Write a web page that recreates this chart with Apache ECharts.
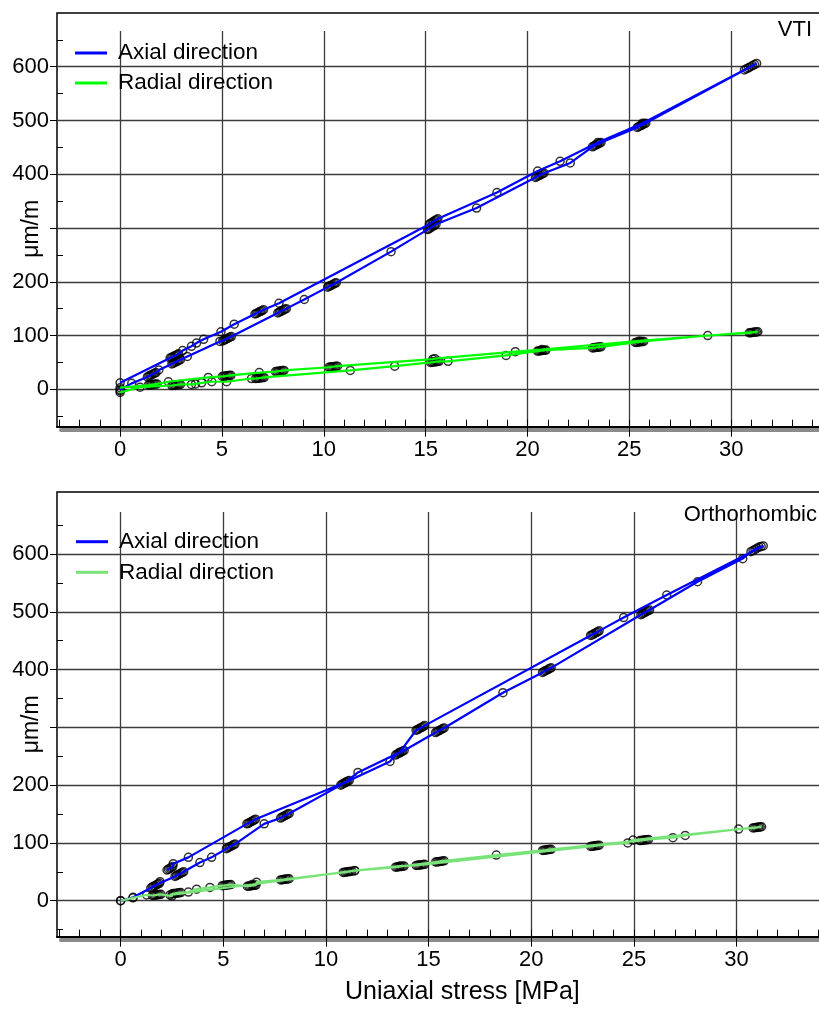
<!DOCTYPE html>
<html><head><meta charset="utf-8">
<script src="https://cdn.jsdelivr.net/npm/echarts@6/dist/echarts.min.js"></script>
<style>html,body{margin:0;padding:0;background:#fff}#c{width:819px;height:1010px}</style>
</head><body><div id="c"></div>
<script>
// ---------- tick values / labels ----------
const xTickLabels = [0, 5, 10, 15, 20, 25, 30];
const xMinorTicks = [-3,-2,-1,0,1,2,3,4,5,6,7,8,9,10,11,12,13,14,15,16,17,18,19,20,21,22,23,24,25,26,27,28,29,30,31,32,33,34];
const yTickValues = [0, 100, 200, 300, 400, 500, 600];
const yTickLabels = [0, 100, 200, 400, 500, 600];
const yMinorTicks = [-50, 50, 150, 250, 350, 450, 550, 650];

// ---------- data: [uniaxial stress MPa, strain µm/m], in measurement order ----------
const vtiAxial = [
  [0,-1],[0.57,11],
  [1.34,23],[1.41,24.5],[1.48,26],[1.55,27],[1.62,28.5],[1.69,30],[1.76,31],
  [1.9,36],
  [2.54,47],[2.61,48.5],[2.68,50],[2.75,51],[2.82,52.5],[2.89,54],[2.96,55],
  [3.3,61],[4.9,89],
  [5.04,90],[5.11,91.5],[5.18,93],[5.25,94],[5.32,95.5],[5.39,97],[5.46,98],
  [7.74,142],[7.81,143.5],[7.88,145],[7.95,146],[8.02,147.5],[8.09,149],[8.16,150],
  [9.04,167],
  [10.19,190],[10.26,191.5],[10.33,193],[10.4,194],[10.47,195.5],[10.54,197],[10.61,198],
  [13.3,256],
  [15.09,297],[15.16,298.5],[15.23,300],[15.3,302],[15.37,303.5],[15.44,305],[15.51,307],
  [17.5,337],
  [20.39,394],[20.46,395.5],[20.53,397],[20.6,398],[20.67,399.5],[20.74,401],[20.81,402],
  [22.1,421],
  [23.19,451],[23.26,452.5],[23.33,454],[23.4,455],[23.47,456.5],[23.54,458],[23.61,459],
  [25.39,487],[25.46,488.5],[25.53,490],[25.6,491],[25.67,492.5],[25.74,494],[25.81,495],
  [30.65,594],[30.75,596],[30.85,598],[30.95,600],[31.05,602],[31.15,604],[31.25,606],
  [25.65,495],[23.45,459],[21.6,424],[20.5,406],[18.5,366],
  [15.6,317],[15.53,315.5],[15.46,314],[15.39,312],[15.32,310.5],[15.25,309],[15.18,307],
  [7.8,160],
  [7.04,148],[6.97,146.5],[6.9,145],[6.83,144],[6.76,142.5],[6.69,141],[6.62,140],
  [5.6,121],[4.95,107],[4.1,93],[3.75,86],[3.5,80],[3.07,72],
  [2.87,66],[2.8,64.5],[2.73,63],[2.66,62],[2.59,60.5],[2.52,59],[2.45,58],
  [0,12]
];
const vtiRadial = [
  [0,-6],[0,-3],[0.98,4],
  [2.54,7],[2.61,7.3],[2.68,7.6],[2.75,8],[2.82,8.4],[2.89,8.7],[2.96,9],
  [3.5,9],[3.7,10],[4.0,12],[4.5,14],[5.23,14],[6.45,20],
  [6.65,20],[6.72,20.3],[6.79,20.6],[6.86,21],[6.93,21.4],[7.0,21.7],[7.07,22],
  [11.3,35],[13.48,43],
  [15.24,50],[15.31,50.3],[15.38,50.6],[15.45,51],[15.52,51.4],[15.59,51.7],[15.66,52],
  [16.1,52],[18.95,63],
  [20.49,71],[20.56,71.3],[20.63,71.6],[20.7,72],[20.77,72.4],[20.84,72.7],[20.91,73],
  [23.19,77],[23.26,77.3],[23.33,77.6],[23.4,78],[23.47,78.4],[23.54,78.7],[23.61,79],
  [25.29,87],[25.36,87.3],[25.43,87.6],[25.5,88],[25.57,88.4],[25.64,88.7],[25.71,89],
  [28.85,100],
  [30.89,105],[30.96,105.3],[31.03,105.6],[31.1,106],[31.17,106.4],[31.24,106.7],[31.31,107],
  [25.5,90],[20.7,74],[19.4,70],[15.45,57],[15.35,56],
  [10.67,43],[10.6,42.7],[10.53,42.4],[10.46,42],[10.39,41.6],[10.32,41.3],[10.25,41],
  [8.05,35],[7.98,34.7],[7.91,34.4],[7.84,34],[7.77,33.6],[7.7,33.3],[7.63,33],
  [6.83,31],
  [5.44,26],[5.37,25.7],[5.3,25.4],[5.23,25],[5.16,24.6],[5.09,24.3],[5.02,24],
  [4.33,22],[2.37,14],
  [1.81,10],[1.74,9.7],[1.67,9.4],[1.6,9],[1.53,8.6],[1.46,8.3],[1.39,8],
  [0,3]
];
const orthoAxial = [
  [0,0],[0.61,6],
  [1.47,22],[1.54,23.5],[1.61,25],[1.68,26],[1.75,27.5],[1.82,29],[1.89,30],
  [1.92,33],
  [2.65,42],[2.72,43.5],[2.79,45],[2.86,46],[2.93,47.5],[3.0,49],[3.07,50],
  [3.86,66],[4.43,75],
  [5.15,90],[5.22,91.5],[5.29,93],[5.36,94],[5.43,95.5],[5.5,97],[5.57,98],
  [6.99,133],
  [7.79,143],[7.86,144.5],[7.93,146],[8.0,147],[8.07,148.5],[8.14,150],[8.21,151],
  [10.72,200],[10.79,201.5],[10.86,203],[10.93,204],[11.0,205.5],[11.07,207],[11.14,208],
  [13.12,241],
  [13.39,252],[13.46,253.5],[13.53,255],[13.6,256],[13.67,257.5],[13.74,259],[13.81,260],
  [15.34,291],[15.41,292.5],[15.48,294],[15.55,295],[15.62,296.5],[15.69,298],[15.76,299],
  [18.62,360],
  [20.55,395],[20.62,396.5],[20.69,398],[20.76,399],[20.83,400.5],[20.9,402],[20.97,403],
  [25.34,495],[25.41,496.5],[25.48,498],[25.55,499],[25.62,500.5],[25.69,502],[25.76,503],
  [28.1,552],[30.3,592],
  [30.7,604],[30.8,606],[30.9,608],[31.0,610],[31.1,612],[31.2,613],[31.3,614],
  [26.6,529],[24.5,490],
  [23.31,467],[23.24,465.5],[23.17,464],[23.1,463],[23.03,461.5],[22.96,460],[22.89,459],
  [14.81,303],[14.74,301.5],[14.67,300],[14.6,299],[14.53,297.5],[14.46,296],[14.39,295],
  [13.6,257],[11.56,222],[10.95,205],
  [6.57,141],[6.5,139.5],[6.43,138],[6.36,137],[6.29,135.5],[6.22,134],[6.15,133],
  [3.3,75],[2.56,64],
  [2.54,59],[2.47,57.5],[2.4,56],[2.33,54.5],[2.26,53]
];
const orthoRadial = [
  [0,0],[0.6,5],[1.27,10],
  [1.54,9],[1.61,9.3],[1.68,9.6],[1.75,10],[1.82,10.4],[1.89,10.7],[1.96,11],
  [2.5,8],
  [2.51,12],[2.58,12.3],[2.65,12.6],[2.72,13],[2.79,13.4],[2.86,13.7],[2.93,14],
  [3.3,15],[3.7,20],[4.35,23],
  [4.95,26],[5.02,26.3],[5.09,26.6],[5.16,27],[5.23,27.4],[5.3,27.7],[5.37,28],
  [6.17,25],[6.24,25.3],[6.31,25.6],[6.38,26],[6.45,26.4],[6.52,26.7],[6.59,27],
  [6.62,32],
  [7.79,36],[7.86,36.3],[7.93,36.6],[8.0,37],[8.07,37.4],[8.14,37.7],[8.21,38],
  [10.84,49],[10.91,49.3],[10.98,49.6],[11.05,50],[11.12,50.4],[11.19,50.7],[11.26,51],
  [11.4,52],
  [13.39,58],[13.46,58.3],[13.53,58.6],[13.6,59],[13.67,59.4],[13.74,59.7],[13.81,60],
  [15.34,67],[15.41,67.3],[15.48,67.6],[15.55,68],[15.62,68.4],[15.69,68.7],[15.76,69],
  [18.3,79],
  [20.55,87],[20.62,87.3],[20.69,87.6],[20.76,88],[20.83,88.4],[20.9,88.7],[20.97,89],
  [25.29,104],[25.36,104.3],[25.43,104.6],[25.5,105],[25.57,105.4],[25.64,105.7],[25.71,106],
  [26.9,109],[27.5,113],[30.1,124],
  [30.8,126],[30.87,126.3],[30.94,126.6],[31.01,127],[31.08,127.4],[31.15,127.7],[31.22,128],
  [24.96,105],[24.7,100],
  [23.31,96],[23.24,95.7],[23.17,95.4],[23.1,95],[23.03,94.6],[22.96,94.3],[22.89,94],
  [14.81,63],[14.74,62.7],[14.67,62.4],[14.6,62],[14.53,61.6],[14.46,61.3],[14.39,61],
  [13.6,60],[11.4,52],[6.4,28],[2.4,10]
];

// ---------- styling ----------
const FONT = "'Liberation Sans',Arial,sans-serif";
const BLUE = '#0000ff', GREEN = '#00ff00', LGREEN = '#78e478';
const GRIDC = '#3c3c3c';

function panel(idx, cfg) {
  const g = idx * 3;
  const base = {outerBoundsMode: 'none', containLabel: false};
  const grids = [
    Object.assign({left: 57, right: cfg.right, top: cfg.frameTop, bottom: cfg.bottom, show: true, borderColor: '#000', borderWidth: 1.5, backgroundColor: 'rgba(0,0,0,0)'}, base),
    Object.assign({left: 57, right: cfg.right, top: cfg.mainTop, bottom: cfg.bottom, show: false}, base),
    Object.assign({left: 61, right: cfg.right, top: cfg.frameTop, bottom: cfg.bottom, show: false}, base)
  ];
  const xs = [
    {type: 'value', gridIndex: g, min: -3.1, max: 35, axisLine: {show: false, onZero: false},
     axisTick: {show: true, inside: true, length: 7, customValues: xMinorTicks, lineStyle: {color: '#000', width: 1}},
     axisLabel: {show: false}, splitLine: {show: false}},
    {type: 'value', gridIndex: g + 1, min: -3.1, max: 35,
     axisLine: {show: true, onZero: false, lineStyle: {color: '#000', width: 2}},
     axisTick: {show: true, inside: false, length: 10, customValues: xTickLabels, lineStyle: {color: '#000', width: 1}},
     axisLabel: {show: true, customValues: xTickLabels, margin: 12, fontSize: 22, fontFamily: FONT, color: '#000'},
     splitLine: {show: true, lineStyle: {color: GRIDC, width: 1.3}}},
    {type: 'value', gridIndex: g + 2, min: -3.1, max: 35, offset: 3,
     axisLine: {show: true, onZero: false, lineStyle: {color: '#8a8a8a', width: 4}},
     axisTick: {show: false}, axisLabel: {show: false}, splitLine: {show: false}}
  ];
  const ys = [
    {type: 'value', gridIndex: g, min: cfg.ymin, max: cfg.frameMax, axisLine: {show: false, onZero: false},
     axisTick: {show: true, inside: true, length: 6, customValues: yMinorTicks, lineStyle: {color: '#000', width: 1}},
     axisLabel: {show: false}, splitLine: {show: false}},
    {type: 'value', gridIndex: g + 1, min: cfg.ymin, max: cfg.mainMax,
     axisLine: {show: false, onZero: false},
     axisTick: {show: true, inside: false, length: 7, customValues: yTickValues, lineStyle: {color: '#000', width: 1}},
     axisLabel: {show: true, customValues: yTickLabels, margin: 8, fontSize: 22, fontFamily: FONT, color: '#000'},
     splitLine: {show: true, lineStyle: {color: GRIDC, width: 1.3}},
     name: 'μm/m', nameLocation: 'middle', nameRotate: 90, nameGap: 14, nameMoveOverlap: false,
     nameTextStyle: {fontSize: 23, fontFamily: FONT, color: '#000'}},
    {type: 'value', gridIndex: g + 2, min: cfg.ymin, max: cfg.frameMax, show: false, axisLine: {onZero: false}}
  ];
  const pts = {type: 'scatter', symbol: 'circle', symbolSize: 8, silent: true, z: 2,
               itemStyle: {color: 'rgba(0,0,0,0)', borderColor: '#000', borderWidth: 1.5}};
  const series = [
    Object.assign({}, pts, {xAxisIndex: g + 1, yAxisIndex: g + 1, data: cfg.axial}),
    Object.assign({}, pts, {xAxisIndex: g + 1, yAxisIndex: g + 1, data: cfg.radial}),
    {type: 'line', name: 'Axial direction#' + idx, xAxisIndex: g + 1, yAxisIndex: g + 1, data: cfg.axial,
     showSymbol: false, symbol: 'none', color: BLUE, lineStyle: {width: 2.2, color: BLUE}, z: 3, silent: true},
    {type: 'line', name: 'Radial direction#' + idx, xAxisIndex: g + 1, yAxisIndex: g + 1, data: cfg.radial,
     showSymbol: false, symbol: 'none', color: cfg.green, lineStyle: {width: 2.2, color: cfg.green}, z: 3, silent: true}
  ];
  const legend = {data: ['Axial direction#' + idx, 'Radial direction#' + idx], left: cfg.legLeft, top: cfg.legTop,
    orient: 'vertical', icon: 'rect', itemWidth: 32, itemHeight: 3, itemGap: cfg.legGap, padding: 0,
    selectedMode: false, formatter: n => n.split('#')[0],
    textStyle: {fontSize: 22.5, lineHeight: 30, fontFamily: FONT, color: '#000', padding: [0, 0, 0, 6]}};
  return {grids, xs, ys, series, legend};
}

const p1 = panel(0, {right: -14, frameTop: 13, mainTop: 31, bottom: 583.3, ymin: -69.6, mainMax: 666.4, frameMax: 699.8,
  axial: vtiAxial, radial: vtiRadial, green: GREEN, legLeft: 75, legTop: 38, legGap: 0});
const p2 = panel(1, {right: -20.2, frameTop: 492, mainTop: 512, bottom: 73.3, ymin: -62.3, mainMax: 672.7, frameMax: 707.3,
  axial: orthoAxial, radial: orthoRadial, green: LGREEN, legLeft: 76, legTop: 526.7, legGap: 0.6});

const chart = echarts.init(document.getElementById('c'));
chart.setOption({
  animation: false,
  backgroundColor: '#fff',
  grid: p1.grids.concat(p2.grids),
  xAxis: p1.xs.concat(p2.xs),
  yAxis: p1.ys.concat(p2.ys),
  series: p1.series.concat(p2.series),
  legend: [p1.legend, p2.legend],
  title: [
    {text: 'VTI', right: 7, top: 19, padding: 0, textStyle: {fontSize: 22, fontFamily: FONT, fontWeight: 'normal', color: '#000'}},
    {text: 'Orthorhombic', right: 2, top: 504, padding: 0, textStyle: {fontSize: 22, fontFamily: FONT, fontWeight: 'normal', color: '#000'}},
    {text: 'Uniaxial stress [MPa]', left: 345, top: 980, padding: 0, textStyle: {fontSize: 25, fontFamily: FONT, fontWeight: 'normal', color: '#000'}}
  ]
});
</script></body></html>
